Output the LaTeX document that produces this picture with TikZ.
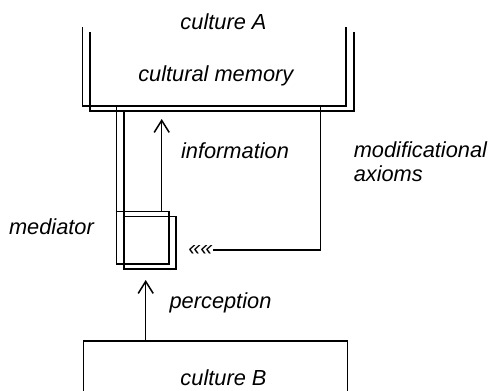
\documentclass[tikz,border=0pt]{standalone}
\usepackage{fontspec}
\setmainfont{Liberation Sans}
\usetikzlibrary{positioning,arrows.meta}

\begin{document}
\begin{tikzpicture}[x=0.5pt,y=-0.5pt,line width=0.75pt,
  lbl/.style={font=\fontsize{10.9}{13}\selectfont\itshape,inner sep=0pt},
  flow/.style={-{Straight Barb[length=6pt,width=7.5pt]}},
  medbox/.style={draw,minimum size=26.2pt,inner sep=0pt,outer sep=0pt}]
\clip (0,0) rectangle (490,390);
% culture A: two containers, the second shifted
\draw (82.7,27) |- (346,106) coordinate (bottoma) -- (346,27);
\draw (90,32) |- (354,111) coordinate (bottomb) -- (354,32);
\node[lbl,anchor=base] (culturea) at (223.5,30) {culture A};
\node[lbl,anchor=base] (memory) at (215.8,81) {cultural memory};
% mediator
\node[medbox] (meda) at (142.85,237.85) {};
\node[medbox] (medb) at (150,242.85) {};
\draw (meda.north west) -- (meda.north west |- bottoma);
\draw (medb.north west) -- (medb.north west |- bottomb);
\node[lbl,anchor=base west] (mediator) at (8.3,234) {mediator};
% information
\coordinate (infotip) at (161.7,119);
\draw[flow] (infotip |- meda.north) -- (infotip);
\node[lbl,anchor=base] (information) at (235,158) {information};
% modificational axioms
\coordinate (axtop) at (320.7,106);
\node[lbl,anchor=east] (guil) at (213.3,250) {««};
\draw (axtop) |- (guil.east);
\node[lbl,anchor=base west] (modif) at (353,157) {modificational};
\node[lbl,anchor=base west] (axioms) at (353,181) {axioms};
% culture B
\node[draw,anchor=north west,minimum width=132pt,minimum height=40pt,inner sep=0pt] (cultureb) at (82.7,340) {};
\coordinate (perctip) at (145.7,280);
\draw[flow] (perctip |- cultureb.north) -- (perctip);
\node[lbl,anchor=base] (perception) at (220.5,308) {perception};
\node[lbl,anchor=base] (culturebl) at (223.5,385) {culture B};
\end{tikzpicture}
\end{document}
